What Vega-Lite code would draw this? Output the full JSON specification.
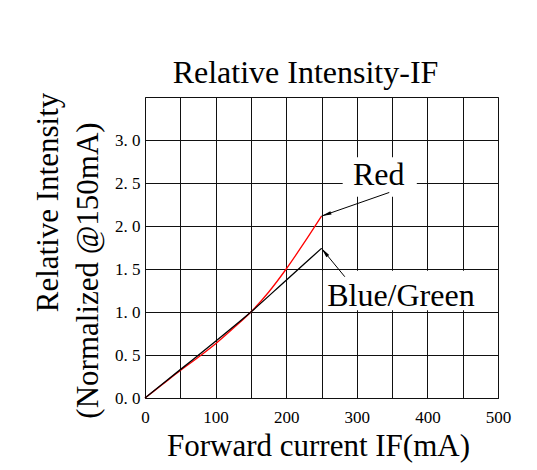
{
  "$schema": "https://vega.github.io/schema/vega-lite/v6.json",
  "width": 353,
  "height": 301,
  "autosize": {"type": "none"},
  "padding": {"left": 145, "top": 97, "right": 39, "bottom": 72},
  "background": "white",
  "title": {"text": "Relative Intensity-IF", "font": "Liberation Serif", "fontSize": 32, "fontWeight": "normal", "color": "#000", "anchor": "middle", "frame": "group", "dx": -16, "dy": 35, "baseline": "alphabetic", "offset": 12},
  "config": {
    "view": {"stroke": "#111", "strokeWidth": 1},
    "axis": {"labelFont": "Liberation Serif", "titleFont": "Liberation Serif", "labelColor": "#000", "titleColor": "#000", "labelFontSize": 17, "titleFontSize": 31, "titleFontWeight": "normal", "ticks": false, "domain": false, "gridColor": "#111", "gridOpacity": 1, "gridWidth": 1, "labelOverlap": false, "labelFlush": false},
    "axisX": {"values": [0, 50, 100, 150, 200, 250, 300, 350, 400, 450, 500], "labelExpr": "datum.value % 100 === 0 ? datum.label : ''", "labelPadding": 11, "titleX": 173, "titleY": 57, "titleAlign": "center", "titleBaseline": "alphabetic", "grid": true}
  },
  "datasets": {
    "curves": [
      {"series": "Red", "current": 0, "intensity": 0},
      {"series": "Red", "current": 25, "intensity": 0.16},
      {"series": "Red", "current": 50, "intensity": 0.32},
      {"series": "Red", "current": 75, "intensity": 0.47},
      {"series": "Red", "current": 100, "intensity": 0.63},
      {"series": "Red", "current": 125, "intensity": 0.81},
      {"series": "Red", "current": 150, "intensity": 1.0},
      {"series": "Red", "current": 175, "intensity": 1.23},
      {"series": "Red", "current": 200, "intensity": 1.5},
      {"series": "Red", "current": 225, "intensity": 1.8},
      {"series": "Red", "current": 250, "intensity": 2.115},
      {"series": "Blue/Green", "current": 0, "intensity": 0},
      {"series": "Blue/Green", "current": 50, "intensity": 0.33},
      {"series": "Blue/Green", "current": 100, "intensity": 0.66},
      {"series": "Blue/Green", "current": 150, "intensity": 1.0},
      {"series": "Blue/Green", "current": 200, "intensity": 1.37},
      {"series": "Blue/Green", "current": 250, "intensity": 1.74}
    ],
    "masks": [
      {"label": "Red", "left": 280, "right": 385, "bottom": 2.34, "top": 2.8},
      {"label": "Blue/Green", "left": 252, "right": 497, "bottom": 1.02, "top": 1.48}
    ],
    "notes": [
      {"label": "Red", "current": 331, "intensity": 2.475},
      {"label": "Blue/Green", "current": 258, "intensity": 1.073}
    ],
    "arrows": [
      {"label": "Red", "tail_current": 346, "tail_intensity": 2.39, "tip_current": 250, "tip_intensity": 2.115},
      {"label": "Blue/Green", "tail_current": 283, "tail_intensity": 1.41, "tip_current": 250, "tip_intensity": 1.74}
    ]
  },
  "resolve": {"axis": {"y": "independent"}},
  "layer": [
    {
      "data": {"name": "masks"},
      "mark": {"type": "rect", "fill": "white", "strokeWidth": 0},
      "encoding": {
        "x": {"field": "left", "type": "quantitative", "scale": {"domain": [0, 500], "nice": false}, "title": "Forward current IF(mA)"},
        "x2": {"field": "right"},
        "y": {"field": "bottom", "type": "quantitative", "scale": {"domain": [0, 3.5], "nice": false}, "axis": null},
        "y2": {"field": "top"}
      }
    },
    {
      "data": {"name": "curves"},
      "mark": {"type": "line", "interpolate": "monotone", "strokeWidth": 1.3},
      "encoding": {
        "x": {"field": "current", "type": "quantitative", "scale": {"domain": [0, 500], "nice": false}, "title": "Forward current IF(mA)"},
        "y": {"field": "intensity", "type": "quantitative", "scale": {"domain": [0, 3.5], "nice": false},
          "axis": {"orient": "left", "values": [0, 0.5, 1, 1.5, 2, 2.5, 3], "labelExpr": "replace(format(datum.value, '.1f'), '.', '. ')", "labelPadding": 5, "title": "(Normalized @150mA)", "titleX": -48, "titleY": 173, "titleAngle": -90, "titleAlign": "center", "titleBaseline": "alphabetic", "grid": true}},
        "color": {"field": "series", "type": "nominal", "scale": {"domain": ["Red", "Blue/Green"], "range": ["#ff0000", "#000000"]}, "legend": null}
      }
    },
    {
      "data": {"name": "arrows"},
      "mark": {"type": "rule", "color": "#000", "strokeWidth": 1},
      "encoding": {
        "x": {"field": "tail_current", "type": "quantitative", "scale": {"domain": [0, 500], "nice": false}, "title": "Forward current IF(mA)"},
        "x2": {"field": "tip_current"},
        "y": {"field": "tail_intensity", "type": "quantitative", "scale": {"domain": [0, 3.5], "nice": false},
          "axis": {"orient": "left", "title": "Relative Intensity", "labels": false, "grid": false, "titleX": -88, "titleY": 105, "titleAngle": -90, "titleAlign": "center", "titleBaseline": "alphabetic"}},
        "y2": {"field": "tip_intensity"}
      }
    },
    {
      "data": {"name": "arrows"},
      "transform": [{"filter": "datum.label === 'Red'"}],
      "mark": {"type": "point", "shape": "M0,0L0.18,1L-0.18,1Z", "filled": true, "color": "#000", "opacity": 1, "size": 400, "angle": 251, "strokeWidth": 0},
      "encoding": {
        "x": {"field": "tip_current", "type": "quantitative", "scale": {"domain": [0, 500], "nice": false}, "title": "Forward current IF(mA)"},
        "y": {"field": "tip_intensity", "type": "quantitative", "scale": {"domain": [0, 3.5], "nice": false}, "axis": null}
      }
    },
    {
      "data": {"name": "arrows"},
      "transform": [{"filter": "datum.label === 'Blue/Green'"}],
      "mark": {"type": "point", "shape": "M0,0L0.18,1L-0.18,1Z", "filled": true, "color": "#000", "opacity": 1, "size": 400, "angle": 321, "strokeWidth": 0},
      "encoding": {
        "x": {"field": "tip_current", "type": "quantitative", "scale": {"domain": [0, 500], "nice": false}, "title": "Forward current IF(mA)"},
        "y": {"field": "tip_intensity", "type": "quantitative", "scale": {"domain": [0, 3.5], "nice": false}, "axis": null}
      }
    },
    {
      "data": {"name": "notes"},
      "transform": [{"filter": "datum.label === 'Red'"}],
      "mark": {"type": "text", "font": "Liberation Serif", "fontSize": 32, "align": "center", "baseline": "alphabetic", "color": "#000"},
      "encoding": {
        "x": {"field": "current", "type": "quantitative", "scale": {"domain": [0, 500], "nice": false}, "title": "Forward current IF(mA)"},
        "y": {"field": "intensity", "type": "quantitative", "scale": {"domain": [0, 3.5], "nice": false}, "axis": null},
        "text": {"field": "label"}
      }
    },
    {
      "data": {"name": "notes"},
      "transform": [{"filter": "datum.label === 'Blue/Green'"}],
      "mark": {"type": "text", "font": "Liberation Serif", "fontSize": 32, "align": "left", "baseline": "alphabetic", "color": "#000"},
      "encoding": {
        "x": {"field": "current", "type": "quantitative", "scale": {"domain": [0, 500], "nice": false}, "title": "Forward current IF(mA)"},
        "y": {"field": "intensity", "type": "quantitative", "scale": {"domain": [0, 3.5], "nice": false}, "axis": null},
        "text": {"field": "label"}
      }
    }
  ]
}
